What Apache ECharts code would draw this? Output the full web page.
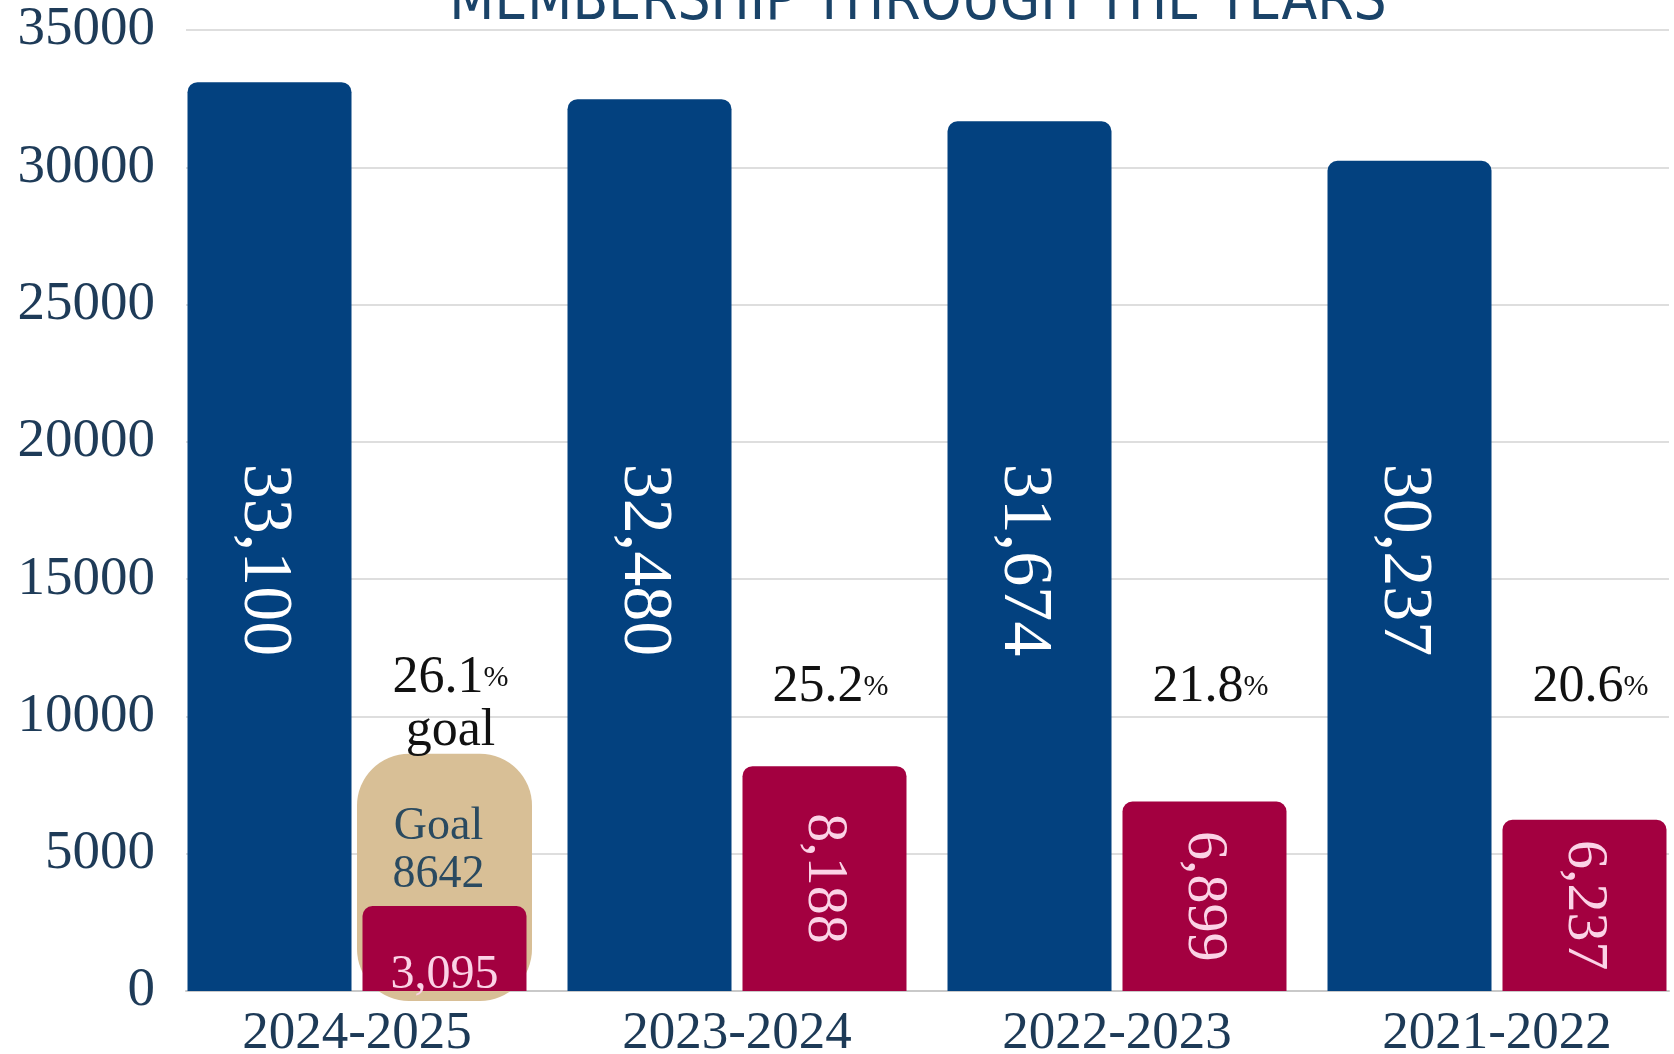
<!DOCTYPE html>
<html>
<head>
<meta charset="utf-8">
<script src="https://cdn.jsdelivr.net/npm/echarts@6/dist/echarts.min.js"></script>
<style>
html,body{margin:0;padding:0;background:#fff;}
#chart{width:1674px;height:1054px;}
</style>
</head>
<body>
<div id="chart"></div>
<script>
// ---- data ----
const categories = ['2024-2025', '2023-2024', '2022-2023', '2021-2022'];
const totalMembers = [33100, 32480, 31674, 30237];
const subsetMembers = [3095, 8188, 6899, 6237];
const goalIndex = 0;
const goalValue = 8642;
const yMin = 0, yMax = 35000, yInterval = 5000;

// ---- layout constants ----
const GRID_TOP = 30, GRID_BOTTOM = 63;
const PLOT_H = 1054 - GRID_TOP - GRID_BOTTOM;
const BAR_W = 164, BAR_GAP_PX = 11;
const RED_OFFSET = (BAR_W + BAR_GAP_PX) / 2;
const SERIF = "'Liberation Serif', 'DejaVu Serif', serif";
function yPix(v) { return GRID_TOP + PLOT_H * (1 - v / yMax); }

const fmt = v => v.toLocaleString('en-US');

const percentData = categories.map((c, i) => {
  const num = i === goalIndex ? goalValue : subsetMembers[i];
  return [i, +(num / totalMembers[i] * 100).toFixed(1)];
});

const subsetData = subsetMembers.map((v, i) => {
  if (i === goalIndex) {
    return {
      value: v,
      label: { rotate: 0, position: 'insideBottom', distance: 0, offset: [0, 8], fontSize: 48 }
    };
  }
  return v;
});

const chart = echarts.init(document.getElementById('chart'));
chart.setOption({
  animation: false,
  backgroundColor: '#ffffff',
  title: {
    text: 'MEMBERSHIP THROUGH THE YEARS',
    left: 913, top: -30,
    textAlign: 'center',
    textStyle: {
      fontFamily: "'Liberation Sans Narrow', 'DejaVu Sans Condensed', 'Liberation Sans', sans-serif",
      fontSize: 58, fontWeight: 'normal', color: '#1a4368'
    }
  },
  grid: [
    { left: 186, right: 5, top: GRID_TOP, bottom: GRID_BOTTOM, outerBoundsMode: 'none' },
    { left: 167, width: 1520, top: GRID_TOP, bottom: GRID_BOTTOM, outerBoundsMode: 'none' }
  ],
  xAxis: [
    { type: 'category', gridIndex: 0, data: categories,
      axisLine: { show: true, lineStyle: { color: '#c9c9c9', width: 2 } },
      axisTick: { show: false }, axisLabel: { show: false } },
    { type: 'category', gridIndex: 1, data: categories,
      axisLine: { show: false }, axisTick: { show: false },
      axisLabel: { margin: 17, fontFamily: SERIF, fontSize: 53, color: '#1d3a57' } }
  ],
  yAxis: [
    { type: 'value', gridIndex: 0, min: yMin, max: yMax, interval: yInterval,
      axisLine: { show: false }, axisTick: { show: false },
      axisLabel: { margin: 31, fontFamily: SERIF, fontSize: 55, color: '#1e3b58',
        formatter: v => String(v) },
      splitLine: { lineStyle: { color: '#dedede', width: 2 } } },
    { type: 'value', gridIndex: 1, min: yMin, max: yMax, interval: yInterval,
      show: false, splitLine: { show: false } }
  ],
  series: [
    {
      type: 'custom',
      name: 'goal',
      xAxisIndex: 1, yAxisIndex: 1,
      z: 1,
      data: [[goalIndex, goalValue]],
      renderItem: function (params, api) {
        const top = api.coord([api.value(0), api.value(1)]);
        const base = api.coord([api.value(0), 0]);
        const cx = top[0] + RED_OFFSET;
        const w = 175;
        return {
          type: 'group',
          children: [
            { type: 'rect',
              shape: { x: cx - w / 2, y: top[1], width: w, height: base[1] - top[1] + 10, r: 52 },
              style: { fill: '#d8bf96' } },
            { type: 'text',
              style: { x: cx - 6, y: top[1] + 97, text: 'Goal\n' + api.value(1),
                align: 'center', verticalAlign: 'middle',
                fontFamily: SERIF, fontSize: 46, lineHeight: 48, fill: '#2a4a60' } }
          ]
        };
      }
    },
    {
      type: 'bar',
      name: 'total',
      xAxisIndex: 1, yAxisIndex: 1,
      data: totalMembers,
      barWidth: BAR_W,
      barGap: (BAR_GAP_PX / BAR_W * 100).toFixed(1) + '%',
      itemStyle: { color: '#03417f', borderRadius: [10, 10, 0, 0] },
      label: {
        show: true, position: 'inside', rotate: -90,
        formatter: p => fmt(p.value),
        fontFamily: SERIF, fontSize: 70, color: '#ffffff'
      },
      labelLayout: function (p) {
        return { x: p.rect.x + p.rect.width / 2 - 6, y: yPix(15700), align: 'center', verticalAlign: 'middle' };
      }
    },
    {
      type: 'bar',
      name: 'subset',
      xAxisIndex: 1, yAxisIndex: 1,
      data: subsetData,
      barWidth: BAR_W,
      z: 2,
      itemStyle: { color: '#a30040', borderRadius: [10, 10, 0, 0] },
      label: {
        show: true, position: 'inside', rotate: -90,
        formatter: p => fmt(p.value),
        fontFamily: SERIF, fontSize: 58, color: '#fbd3e6'
      }
    },
    {
      type: 'custom',
      name: 'percent',
      xAxisIndex: 1, yAxisIndex: 1,
      z: 3,
      data: percentData,
      renderItem: function (params, api) {
        const idx = api.value(0);
        const p = api.coord([idx, 0]);
        const cx = p[0] + RED_OFFSET;
        const isGoal = idx === goalIndex;
        const txt = api.value(1).toFixed(1) + '{p|%}' + (isGoal ? '\ngoal' : '');
        return {
          type: 'text',
          style: {
            x: cx + 6, y: isGoal ? 705 : 687,
            text: txt, align: 'center', verticalAlign: 'middle',
            fontFamily: SERIF, fontSize: 52, lineHeight: 53, fill: '#111111',
            rich: { p: { fontFamily: SERIF, fontSize: 30, fill: '#111111' } }
          }
        };
      }
    }
  ]
});
</script>
</body>
</html>
